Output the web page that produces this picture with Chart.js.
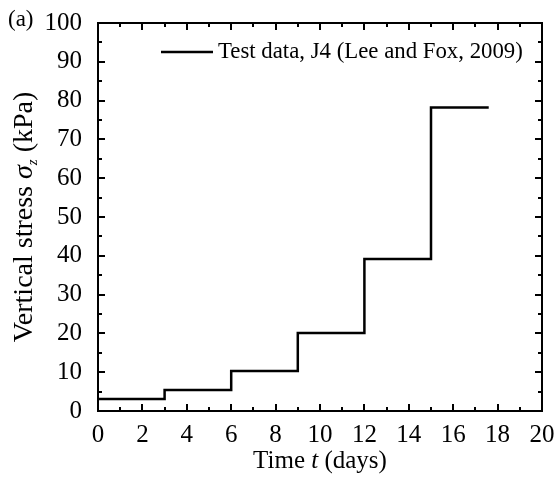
<!DOCTYPE html>
<html>
<head>
<meta charset="utf-8">
<script src="https://cdn.jsdelivr.net/npm/chart.js@4.4.0/dist/chart.umd.min.js"></script>
<style>
  html, body { margin: 0; padding: 0; background: #fff; }
  #wrap { width: 557px; height: 479px; }
</style>
</head>
<body>
<div id="wrap"><canvas id="stressChart"></canvas></div>
<script>
'use strict';

// step loading: time (days) where each load starts, and stress (kPa)
const times = [0, 3, 6, 9, 12, 15, 17.6];
const stress = [3.1, 5.4, 10.3, 20.1, 39.2, 78.2, 78.2];
const xTicks = [0, 2, 4, 6, 8, 10, 12, 14, 16, 18, 20];
const yTicks = [0, 10, 20, 30, 40, 50, 60, 70, 80, 90, 100];
const seriesLabel = 'Test data, J4 (Lee and Fox, 2009)';

const SERIF = '"Liberation Serif", "Times New Roman", serif';

// frame, inward ticks, axis titles, legend and panel label
const framePlugin = {
    id: 'frame',
    afterDraw(chart) {
        const ctx = chart.ctx;
        const a = chart.chartArea;
        const xs = chart.scales.x, ys = chart.scales.y;
        ctx.save();
        ctx.strokeStyle = '#000';
        ctx.lineWidth = 2;
        ctx.strokeRect(a.left, a.top, a.right - a.left, a.bottom - a.top);

        ctx.beginPath();
        for (let v = 0; v <= 20; v += 1) {
            const px = Math.round(xs.getPixelForValue(v));
            const len = v % 2 === 0 ? 7 : 4;
            ctx.moveTo(px, a.bottom); ctx.lineTo(px, a.bottom - len);
            ctx.moveTo(px, a.top); ctx.lineTo(px, a.top + len);
        }
        for (let v = 0; v <= 100; v += 5) {
            const py = Math.round(ys.getPixelForValue(v));
            const len = v % 10 === 0 ? 7 : 4;
            ctx.moveTo(a.left, py); ctx.lineTo(a.left + len, py);
            ctx.moveTo(a.right, py); ctx.lineTo(a.right - len, py);
        }
        ctx.stroke();

        ctx.fillStyle = '#000';
        ctx.textBaseline = 'alphabetic';

        // x title: Time t (days)
        const xParts = [
            ['Time ', '25px ' + SERIF],
            ['t', 'italic 25px ' + SERIF],
            [' (days)', '25px ' + SERIF]
        ];
        let w = 0;
        xParts.forEach(p => { ctx.font = p[1]; w += ctx.measureText(p[0]).width; });
        let x = (a.left + a.right) / 2 - w / 2;
        xParts.forEach(p => {
            ctx.font = p[1];
            ctx.fillText(p[0], x, 468);
            x += ctx.measureText(p[0]).width;
        });

        // y title: Vertical stress σz (kPa)
        ctx.save();
        ctx.translate(32, (a.top + a.bottom) / 2);
        ctx.rotate(-Math.PI / 2);
        const yParts = [
            ['Vertical stress ', '28px ' + SERIF, 0],
            ['σ', 'italic 28px ' + SERIF, 0],
            ['z', 'italic 15px ' + SERIF, 5],
            [' (kPa)', '28px ' + SERIF, 0]
        ];
        w = 0;
        yParts.forEach(p => { ctx.font = p[1]; w += ctx.measureText(p[0]).width; });
        x = -w / 2;
        yParts.forEach(p => {
            ctx.font = p[1];
            ctx.fillText(p[0], x, p[2]);
            x += ctx.measureText(p[0]).width;
        });
        ctx.restore();

        // panel label
        ctx.font = '23px ' + SERIF;
        ctx.fillText('(a)', 8, 26);

        // legend
        const ds = chart.data.datasets[0];
        ctx.strokeStyle = ds.borderColor;
        ctx.lineWidth = ds.borderWidth;
        ctx.beginPath();
        ctx.moveTo(161, 52); ctx.lineTo(213, 52);
        ctx.stroke();
        ctx.font = '22.8px ' + SERIF;
        ctx.textBaseline = 'middle';
        ctx.fillText(ds.label, 218, 52);
        ctx.restore();
    }
};

const CHART = document.getElementById('stressChart');

let stressChart = new Chart(CHART, {
    type: 'line',
    data: {
        datasets: [
            {
                label: seriesLabel,
                data: times.map((t, i) => ({ x: t, y: stress[i] })),
                borderColor: '#000',
                borderWidth: 2.5,
                stepped: 'before',
                pointRadius: 0,
                fill: false
            }
        ]
    },
    options: {
        responsive: true,
        maintainAspectRatio: false,
        animation: false,
        layout: { padding: { top: 16, right: 15, left: 0, bottom: 0 } },
        plugins: {
            legend: { display: false },
            tooltip: { enabled: false }
        },
        scales: {
            x: {
                type: 'linear',
                min: 0,
                max: 20,
                afterFit: (scale) => { scale.height = 68; },
                afterBuildTicks: (scale) => { scale.ticks = xTicks.map(v => ({ value: v })); },
                grid: { display: false },
                border: { display: false },
                ticks: {
                    padding: 1,
                    color: '#000',
                    maxRotation: 0,
                    font: { family: SERIF, size: 25 }
                }
            },
            y: {
                type: 'linear',
                min: 0,
                max: 100,
                afterFit: (scale) => { scale.width = 98; },
                afterBuildTicks: (scale) => { scale.ticks = yTicks.map(v => ({ value: v })); },
                grid: { display: false },
                border: { display: false },
                ticks: {
                    padding: 8,
                    color: '#000',
                    font: { family: SERIF, size: 25 }
                }
            }
        }
    },
    plugins: [framePlugin]
});
</script>
</body>
</html>
